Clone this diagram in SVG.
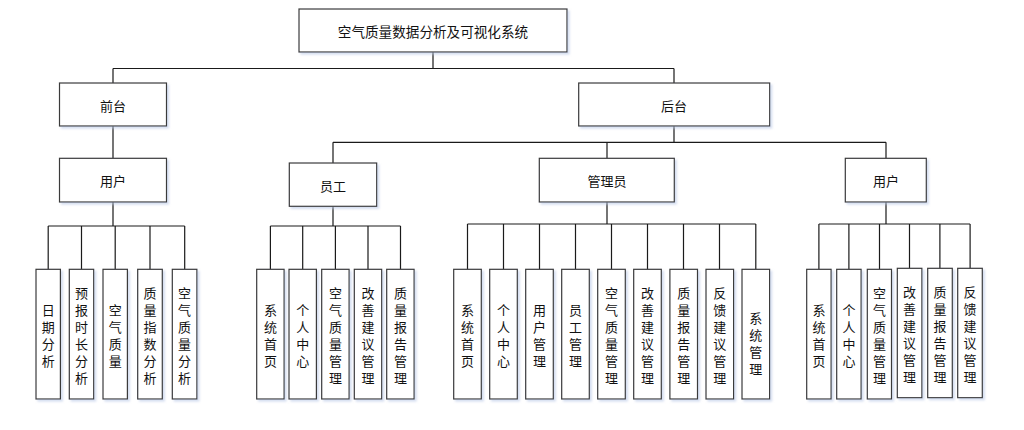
<svg xmlns="http://www.w3.org/2000/svg" width="1024" height="430" viewBox="0 0 1024 430">
<style>
.box{fill:#fff;stroke:#3a3a3a;stroke-width:1.2;filter:url(#sh)}
.ln{fill:none;stroke:#1a1a1a;stroke-width:1.2}
text{font-family:"Noto Sans CJK SC","Noto Sans",sans-serif;font-size:13px;fill:#111;text-anchor:middle;dominant-baseline:central}
.root{font-size:13.6px}
</style>
<defs>
<filter id="sh" x="-20%" y="-20%" width="150%" height="150%">
<feDropShadow dx="2" dy="2" stdDeviation="1.2" flood-color="#b9c8e6" flood-opacity="0.6"/>
</filter>
</defs>
<rect width="1024" height="430" fill="#fff"/>
<g id="connectors">
<path class="ln" d="M433 52V68.5M113 68.5H674M113 68.5V83M674 68.5V83"/>
<path class="ln" d="M113 126V158"/>
<path class="ln" d="M113 202V226M48.2 226H184.7M48.2 226V269.3M81.5 226V269.3M115.2 226V269.3M150 226V269.3M184.7 226V269.3"/>
<path class="ln" d="M674 126V142.3M333 142.3H886M333 142.3V163M607 142.3V158.3M886 142.3V158.3"/>
<path class="ln" d="M333 206.3V226M270.4 226H400.5M270.4 226V269.3M302.7 226V269.3M335.4 226V269.3M368 226V269.3M400.5 226V269.3"/>
<path class="ln" d="M607 202V224M467.5 224H755.8M467.5 224V269.3M503.5 224V269.3M539.5 224V269.3M575.5 224V269.3M611.5 224V269.3M647.5 224V269.3M683.5 224V269.3M719.5 224V269.3M755.8 224V269.3"/>
<path class="ln" d="M886 202V224M818.9 224H970.1M818.9 224V269.3M848.9 224V269.3M879.5 224V269.3M909.5 224V268.3M939.9 224V268.3M970.1 224V268.3"/>
</g>
<g id="n-root"><rect class="box" x="299" y="9" width="268" height="43"/><text class="root" x="433" y="31">空气质量数据分析及可视化系统</text></g>
<g id="n-front"><rect class="box" x="59.5" y="83" width="107" height="43"/><text x="113" y="105">前台</text></g>
<g id="n-back"><rect class="box" x="578.7" y="83" width="191" height="43"/><text x="674" y="105">后台</text></g>
<g id="n-user1"><rect class="box" x="59.5" y="158.3" width="107" height="43.7"/><text x="113" y="180.5">用户</text></g>
<g id="n-staff"><rect class="box" x="289.3" y="163" width="87.4" height="43.3"/><text x="333" y="185">员工</text></g>
<g id="n-admin"><rect class="box" x="539.3" y="158.3" width="135" height="43.7"/><text x="607" y="180.5">管理员</text></g>
<g id="n-user2"><rect class="box" x="845.3" y="158.3" width="81" height="43.7"/><text x="886" y="180.5">用户</text></g>

<g id="l1"><rect class="box" x="36" y="269.3" width="24.4" height="129.7"/><text x="48.2" y="308.5"><tspan x="48.2">日</tspan><tspan x="48.2" dy="17">期</tspan><tspan x="48.2" dy="17">分</tspan><tspan x="48.2" dy="17">析</tspan></text></g>
<g id="l2"><rect class="box" x="69.3" y="269.3" width="24.4" height="129.7"/><text x="81.5" y="291.5"><tspan x="81.5">预</tspan><tspan x="81.5" dy="17">报</tspan><tspan x="81.5" dy="17">时</tspan><tspan x="81.5" dy="17">长</tspan><tspan x="81.5" dy="17">分</tspan><tspan x="81.5" dy="17">析</tspan></text></g>
<g id="l3"><rect class="box" x="103" y="269.3" width="24.4" height="129.7"/><text x="115.2" y="308.5"><tspan x="115.2">空</tspan><tspan x="115.2" dy="17">气</tspan><tspan x="115.2" dy="17">质</tspan><tspan x="115.2" dy="17">量</tspan></text></g>
<g id="l4"><rect class="box" x="137.7" y="269.3" width="24.6" height="129.7"/><text x="150" y="291.5"><tspan x="150">质</tspan><tspan x="150" dy="17">量</tspan><tspan x="150" dy="17">指</tspan><tspan x="150" dy="17">数</tspan><tspan x="150" dy="17">分</tspan><tspan x="150" dy="17">析</tspan></text></g>
<g id="l5"><rect class="box" x="172.3" y="269.3" width="24.6" height="129.7"/><text x="184.6" y="291.5"><tspan x="184.6">空</tspan><tspan x="184.6" dy="17">气</tspan><tspan x="184.6" dy="17">质</tspan><tspan x="184.6" dy="17">量</tspan><tspan x="184.6" dy="17">分</tspan><tspan x="184.6" dy="17">析</tspan></text></g>

<g id="s1"><rect class="box" x="256.7" y="269.3" width="27.4" height="129.7"/><text x="270.4" y="308.5"><tspan x="270.4">系</tspan><tspan x="270.4" dy="17">统</tspan><tspan x="270.4" dy="17">首</tspan><tspan x="270.4" dy="17">页</tspan></text></g>
<g id="s2"><rect class="box" x="289" y="269.3" width="27.4" height="129.7"/><text x="302.7" y="308.5"><tspan x="302.7">个</tspan><tspan x="302.7" dy="17">人</tspan><tspan x="302.7" dy="17">中</tspan><tspan x="302.7" dy="17">心</tspan></text></g>
<g id="s3"><rect class="box" x="321.7" y="269.3" width="27.4" height="129.7"/><text x="335.4" y="291.5"><tspan x="335.4">空</tspan><tspan x="335.4" dy="17">气</tspan><tspan x="335.4" dy="17">质</tspan><tspan x="335.4" dy="17">量</tspan><tspan x="335.4" dy="17">管</tspan><tspan x="335.4" dy="17">理</tspan></text></g>
<g id="s4"><rect class="box" x="354.3" y="269.3" width="27.4" height="129.7"/><text x="368" y="291.5"><tspan x="368">改</tspan><tspan x="368" dy="17">善</tspan><tspan x="368" dy="17">建</tspan><tspan x="368" dy="17">议</tspan><tspan x="368" dy="17">管</tspan><tspan x="368" dy="17">理</tspan></text></g>
<g id="s5"><rect class="box" x="386.7" y="269.3" width="27.4" height="129.7"/><text x="400.4" y="291.5"><tspan x="400.4">质</tspan><tspan x="400.4" dy="17">量</tspan><tspan x="400.4" dy="17">报</tspan><tspan x="400.4" dy="17">告</tspan><tspan x="400.4" dy="17">管</tspan><tspan x="400.4" dy="17">理</tspan></text></g>

<g id="a1"><rect class="box" x="453.7" y="269.3" width="27.6" height="129.7"/><text x="467.5" y="308.5"><tspan x="467.5">系</tspan><tspan x="467.5" dy="17">统</tspan><tspan x="467.5" dy="17">首</tspan><tspan x="467.5" dy="17">页</tspan></text></g>
<g id="a2"><rect class="box" x="489.7" y="269.3" width="27.6" height="129.7"/><text x="503.5" y="308.5"><tspan x="503.5">个</tspan><tspan x="503.5" dy="17">人</tspan><tspan x="503.5" dy="17">中</tspan><tspan x="503.5" dy="17">心</tspan></text></g>
<g id="a3"><rect class="box" x="525.7" y="269.3" width="27.6" height="129.7"/><text x="539.5" y="308.5"><tspan x="539.5">用</tspan><tspan x="539.5" dy="17">户</tspan><tspan x="539.5" dy="17">管</tspan><tspan x="539.5" dy="17">理</tspan></text></g>
<g id="a4"><rect class="box" x="561.7" y="269.3" width="27.6" height="129.7"/><text x="575.5" y="308.5"><tspan x="575.5">员</tspan><tspan x="575.5" dy="17">工</tspan><tspan x="575.5" dy="17">管</tspan><tspan x="575.5" dy="17">理</tspan></text></g>
<g id="a5"><rect class="box" x="597.7" y="269.3" width="27.6" height="129.7"/><text x="611.5" y="291.5"><tspan x="611.5">空</tspan><tspan x="611.5" dy="17">气</tspan><tspan x="611.5" dy="17">质</tspan><tspan x="611.5" dy="17">量</tspan><tspan x="611.5" dy="17">管</tspan><tspan x="611.5" dy="17">理</tspan></text></g>
<g id="a6"><rect class="box" x="633.7" y="269.3" width="27.6" height="129.7"/><text x="647.5" y="291.5"><tspan x="647.5">改</tspan><tspan x="647.5" dy="17">善</tspan><tspan x="647.5" dy="17">建</tspan><tspan x="647.5" dy="17">议</tspan><tspan x="647.5" dy="17">管</tspan><tspan x="647.5" dy="17">理</tspan></text></g>
<g id="a7"><rect class="box" x="669.9" y="269.3" width="27.6" height="129.7"/><text x="683.7" y="291.5"><tspan x="683.7">质</tspan><tspan x="683.7" dy="17">量</tspan><tspan x="683.7" dy="17">报</tspan><tspan x="683.7" dy="17">告</tspan><tspan x="683.7" dy="17">管</tspan><tspan x="683.7" dy="17">理</tspan></text></g>
<g id="a8"><rect class="box" x="706" y="269.3" width="27.6" height="129.7"/><text x="719.8" y="291.5"><tspan x="719.8">反</tspan><tspan x="719.8" dy="17">馈</tspan><tspan x="719.8" dy="17">建</tspan><tspan x="719.8" dy="17">议</tspan><tspan x="719.8" dy="17">管</tspan><tspan x="719.8" dy="17">理</tspan></text></g>
<g id="a9"><rect class="box" x="742" y="269.3" width="27.6" height="129.7"/><text x="755.8" y="316.5"><tspan x="755.8">系</tspan><tspan x="755.8" dy="17">统</tspan><tspan x="755.8" dy="17">管</tspan><tspan x="755.8" dy="17">理</tspan></text></g>

<g id="u1"><rect class="box" x="806.7" y="269.3" width="24.4" height="129.7"/><text x="818.9" y="308.5"><tspan x="818.9">系</tspan><tspan x="818.9" dy="17">统</tspan><tspan x="818.9" dy="17">首</tspan><tspan x="818.9" dy="17">页</tspan></text></g>
<g id="u2"><rect class="box" x="836.7" y="269.3" width="24.4" height="129.7"/><text x="848.9" y="308.5"><tspan x="848.9">个</tspan><tspan x="848.9" dy="17">人</tspan><tspan x="848.9" dy="17">中</tspan><tspan x="848.9" dy="17">心</tspan></text></g>
<g id="u3"><rect class="box" x="867.3" y="269.3" width="24.2" height="129.7"/><text x="879.4" y="291.5"><tspan x="879.4">空</tspan><tspan x="879.4" dy="17">气</tspan><tspan x="879.4" dy="17">质</tspan><tspan x="879.4" dy="17">量</tspan><tspan x="879.4" dy="17">管</tspan><tspan x="879.4" dy="17">理</tspan></text></g>
<g id="u4"><rect class="box" x="897.3" y="268.3" width="24.6" height="129.4"/><text x="909.6" y="291"><tspan x="909.6">改</tspan><tspan x="909.6" dy="17">善</tspan><tspan x="909.6" dy="17">建</tspan><tspan x="909.6" dy="17">议</tspan><tspan x="909.6" dy="17">管</tspan><tspan x="909.6" dy="17">理</tspan></text></g>
<g id="u5"><rect class="box" x="927.7" y="268.3" width="24.6" height="129.4"/><text x="940" y="291"><tspan x="940">质</tspan><tspan x="940" dy="17">量</tspan><tspan x="940" dy="17">报</tspan><tspan x="940" dy="17">告</tspan><tspan x="940" dy="17">管</tspan><tspan x="940" dy="17">理</tspan></text></g>
<g id="u6"><rect class="box" x="957.7" y="268.3" width="24.6" height="129.4"/><text x="970" y="291"><tspan x="970">反</tspan><tspan x="970" dy="17">馈</tspan><tspan x="970" dy="17">建</tspan><tspan x="970" dy="17">议</tspan><tspan x="970" dy="17">管</tspan><tspan x="970" dy="17">理</tspan></text></g>
</svg>
